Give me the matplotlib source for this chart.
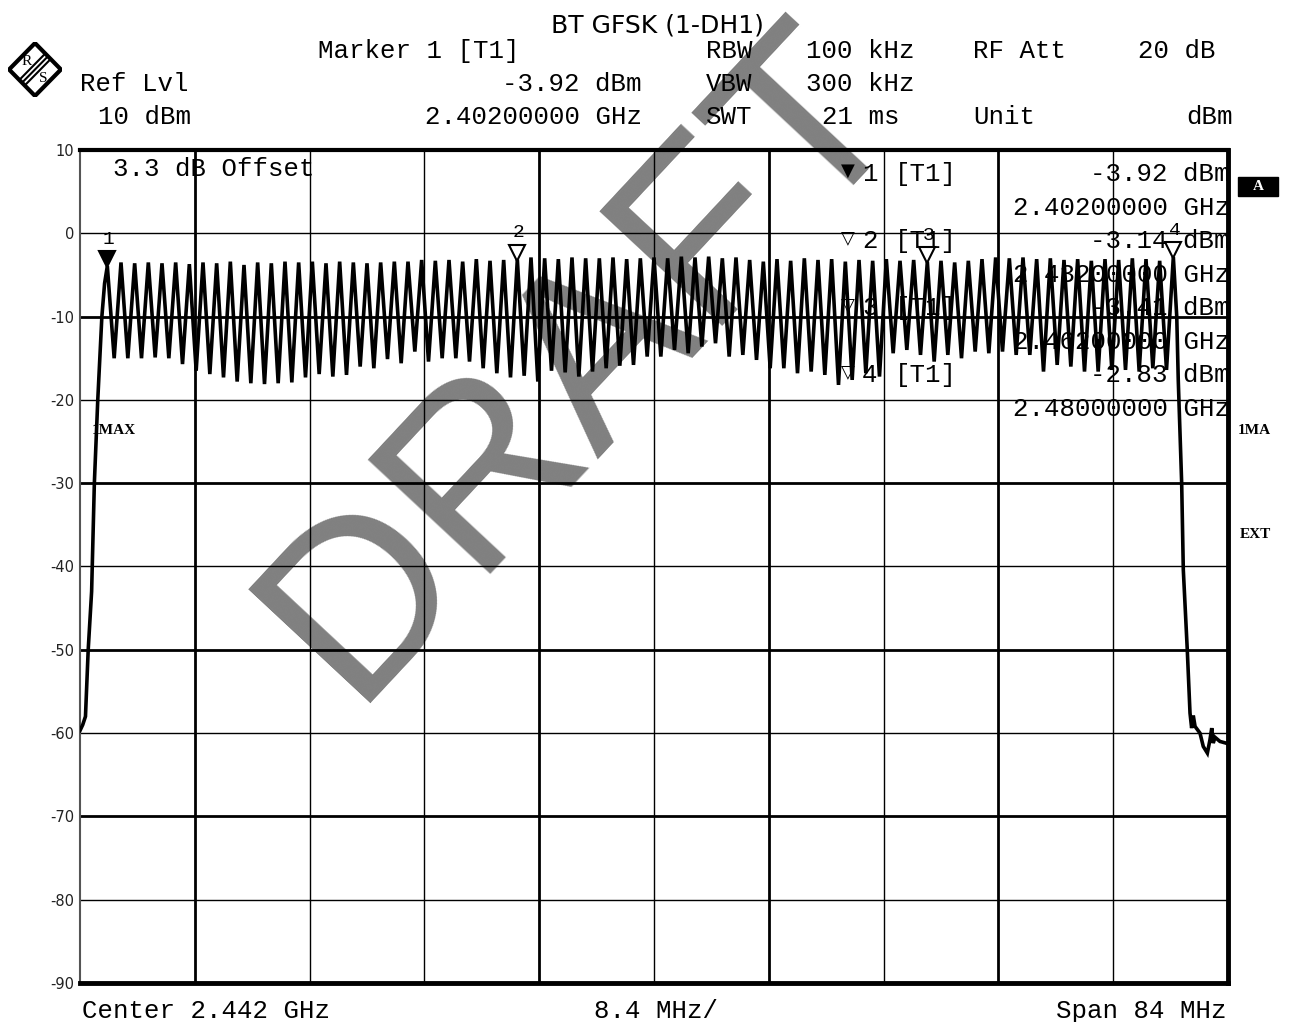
import numpy as np
import matplotlib
matplotlib.use('Agg')
import matplotlib.pyplot as plt
from matplotlib.patches import Polygon, Rectangle
from matplotlib.transforms import offset_copy

W, H = 1292, 1022


def px(x, y):
    # pixel position -> figure fraction
    return x / W, 1 - y / H


center_ghz = 2.442
span_mhz = 84
ref_lvl = 10
channels_mhz = np.arange(2402, 2481)  # BT channels 0..78

peak_dbm = [-3.92, -3.5, -3.6, -3.5, -3.6, -3.5, -3.7, -3.5, -3.6, -3.4,
            -3.8, -3.5, -3.6, -3.4, -3.5, -3.4, -3.6, -3.4, -3.5, -3.6,
            -3.5, -3.4, -3.4, -3.2, -3.3, -3.2, -3.4, -3.1, -3.3, -3.2,
            -3.14, -2.9, -3.0, -3.1, -2.9, -3.0, -3.0, -2.9, -3.1, -3.0,
            -2.9, -3.0, -2.8, -2.9, -2.8, -3.0, -2.9, -3.2, -3.4, -3.1,
            -3.3, -3.0, -3.2, -3.1, -3.4, -3.2, -3.3, -3.1, -3.3, -3.2,
            -3.41, -3.3, -3.5, -3.3, -3.1, -2.9, -3.0, -2.9, -3.1, -3.0,
            -3.2, -3.1, -3.3, -3.1, -3.2, -3.0, -3.1, -3.3, -2.83]

trough_dbm = [-15.0, -15.0, -15.0, -14.9, -15.0, -15.7, -16.5, -16.9, -17.3, -17.8,
              -18.0, -18.1, -18.0, -17.9, -17.3, -16.9, -17.2, -17.0, -16.0, -16.2,
              -15.1, -15.6, -14.2, -15.4, -15.0, -15.0, -15.4, -16.2, -16.8, -17.3,
              -17.1, -17.8, -16.5, -16.7, -17.2, -16.6, -16.2, -15.9, -15.8, -14.8,
              -14.8, -14.0, -14.4, -13.6, -13.2, -14.8, -14.6, -15.2, -16.2, -16.2,
              -16.8, -16.6, -17.0, -18.2, -17.6, -16.8, -17.2, -14.4, -14.0, -14.6,
              -15.4, -14.6, -15.0, -14.2, -14.4, -14.2, -14.6, -14.6, -16.6, -15.8,
              -16.0, -16.6, -16.6, -16.4, -16.4, -16.6, -16.2, -16.4]

left_edge_mhz = [2400.0, 2400.2, 2400.4, 2400.6, 2400.85, 2401.05, 2401.3, 2401.45, 2401.6, 2401.8]
left_edge_dbm = [-59.7, -59.0, -58.0, -50.0, -43.0, -30.0, -20.0, -15.0, -10.0, -6.0]

right_edge_mhz = [2480.25, 2480.36, 2480.61, 2480.73, 2481.02, 2481.22, 2481.34, 2481.46,
                  2481.59, 2481.95, 2482.19, 2482.49, 2482.68, 2482.81, 2482.92, 2483.05,
                  2483.41, 2483.85, 2484.0]
right_edge_dbm = [-10.0, -17.6, -30.0, -40.4, -50.0, -57.6, -59.4, -57.9,
                  -59.2, -60.0, -61.6, -62.4, -60.8, -59.4, -61.2, -60.5,
                  -61.0, -61.2, -61.3]

marker_mhz = [2402, 2432, 2462, 2480]
marker_dbm = [-3.92, -3.14, -3.41, -2.83]

# ---- build trace: channel peaks with troughs between ----
freq = np.empty(len(peak_dbm) + len(trough_dbm))
lvl = np.empty_like(freq)
freq[0::2] = channels_mhz
freq[1::2] = channels_mhz[:-1] + 0.5
lvl[0::2] = peak_dbm
lvl[1::2] = trough_dbm
trace_f = np.concatenate([left_edge_mhz, freq, right_edge_mhz])
trace_l = np.concatenate([left_edge_dbm, lvl, right_edge_dbm])

fig = plt.figure(figsize=(W / 100, H / 100), dpi=100)
ax = fig.add_axes([80 / W, (H - 983) / H, (1228 - 80) / W, (983 - 150) / H])
ax.set_facecolor('none')

start = center_ghz * 1000 - span_mhz / 2
stop = center_ghz * 1000 + span_mhz / 2
ax.set_xlim(start, stop)
ax.set_ylim(ref_lvl - 100, ref_lvl)

# grid, alternating heavy/light like the analyzer plot
for k in range(1, 10):
    ax.axvline(start + k * span_mhz / 10, color='k', lw=2.0 if k in (1, 4, 6, 8) else 1.0, zorder=1)
for k in range(1, 10):
    ax.axhline(ref_lvl - 10 * k, color='k', lw=2.0 if k % 2 == 0 else 1.0, zorder=1)

ax.plot(trace_f, trace_l, color='k', lw=2.6, zorder=3, solid_joinstyle='miter')

# markers on the trace
for i, (mf, ml) in enumerate(zip(marker_mhz, marker_dbm)):
    tr = offset_copy(ax.transData, fig=fig, x=0, y=5, units='points')
    ax.plot(mf, ml, marker='v', ms=11, mec='k', mew=1.5,
            mfc='k' if i == 0 else 'white', transform=tr, zorder=5, clip_on=False)
    ax.annotate(str(i + 1), (mf, ml), xytext=(1, 13), textcoords='offset points',
                ha='center', va='bottom', family='Liberation Mono', fontsize=14, zorder=6)

ax.set_xticks([])
ax.set_yticks(range(ref_lvl - 100, ref_lvl + 1, 10))
ax.set_yticklabels([str(v) for v in range(ref_lvl - 100, ref_lvl + 1, 10)])
ax.tick_params(axis='y', length=0, pad=4, labelsize=10.5, labelcolor='#222222')
for s, w in (('top', 3), ('right', 3.5), ('bottom', 3.5), ('left', 1.5)):
    ax.spines[s].set_linewidth(w)
ax.spines['left'].set_color('#555555')

# watermark behind everything
fig.text(*px(583, 362), 'DRAFT', rotation=47, rotation_mode='anchor', ha='center', va='center',
         fontsize=176, color='#808080', family='Liberation Sans', zorder=-5)

mono = dict(family='Liberation Mono', fontsize=18.5, va='center')
fig.text(*px(657, 25), 'BT GFSK (1-DH1)', ha='center', va='center', fontsize=18, family='DejaVu Sans')

fig.text(*px(318, 51), 'Marker 1 [T1]', **mono)
fig.text(*px(80, 84), 'Ref Lvl', **mono)
fig.text(*px(642, 84), f'{marker_dbm[0]:.2f} dBm', ha='right', **mono)
fig.text(*px(98, 117), f'{ref_lvl} dBm', **mono)
fig.text(*px(642, 117), f'{marker_mhz[0] / 1000:.8f} GHz', ha='right', **mono)
fig.text(*px(706, 51), 'RBW', **mono)
fig.text(*px(806, 51), '100 kHz', **mono)
fig.text(*px(706, 84), 'VBW', **mono)
fig.text(*px(806, 84), '300 kHz', **mono)
fig.text(*px(706, 117), 'SWT', **mono)
fig.text(*px(822, 117), '21 ms', **mono)
fig.text(*px(973, 51), 'RF Att', **mono)
fig.text(*px(1216, 51), '20 dB', ha='right', **mono)
fig.text(*px(973, 117), 'Unit', **mono)
fig.text(*px(1233, 117), 'dBm', ha='right', **mono)

fig.text(*px(113, 169), '3.3 dB Offset', **mono)

# marker table
for i, (mf, ml) in enumerate(zip(marker_mhz, marker_dbm)):
    y0 = 174 + 67 * i
    fig.text(*px(848, y0 - 3), '▼' if i == 0 else '▽', ha='center', va='center',
             fontsize=13, family='DejaVu Sans')
    fig.text(*px(862, y0), str(i + 1), **mono)
    fig.text(*px(895, y0), '[T1]', **mono)
    fig.text(*px(1230, y0), f'{ml:.2f} dBm', ha='right', **mono)
    fig.text(*px(1230, y0 + 34), f'{mf / 1000:.8f} GHz', ha='right', **mono)

# bottom line
fig.text(*px(82, 1011), f'Center {center_ghz:.3f} GHz', **mono)
fig.text(*px(594, 1011), f'{span_mhz / 10:.1f} MHz/', **mono)
fig.text(*px(1226, 1011), f'Span {span_mhz} MHz', ha='right', **mono)

# side annotations
side = dict(family='Liberation Serif', fontsize=11, fontweight='bold', va='center')
fig.add_artist(Rectangle(px(1238, 196), 40 / W, 19 / H, transform=fig.transFigure,
                         facecolor='k', edgecolor='k'))
fig.text(*px(1258, 186), 'A', color='white', ha='center', **side)
fig.text(*px(1238, 430), '1MA', **side)
fig.text(*px(1240, 534), 'EXT', **side)
fig.text(*px(92, 430), '1MAX', **side)

# R&S logo
lg = fig.add_axes([8 / W, (H - 97) / H, 54 / W, 55 / H])
lg.set_xlim(0, 1)
lg.set_ylim(0, 1)
lg.axis('off')
lg.add_patch(Polygon([[0.5, 0.02], [0.98, 0.5], [0.5, 0.98], [0.02, 0.5]], closed=True,
                     fill=False, lw=3, edgecolor='k'))
for d in (-0.05, 0.0, 0.05):
    lg.plot([0.74 + d, 0.26 + d], [0.74 - d, 0.26 - d], color='k', lw=1.5)
lg.text(0.34, 0.64, 'R', ha='center', va='center', fontsize=11, family='Liberation Serif')
lg.text(0.66, 0.34, 'S', ha='center', va='center', fontsize=11, family='Liberation Serif')

fig.savefig('out.png', dpi=100)
